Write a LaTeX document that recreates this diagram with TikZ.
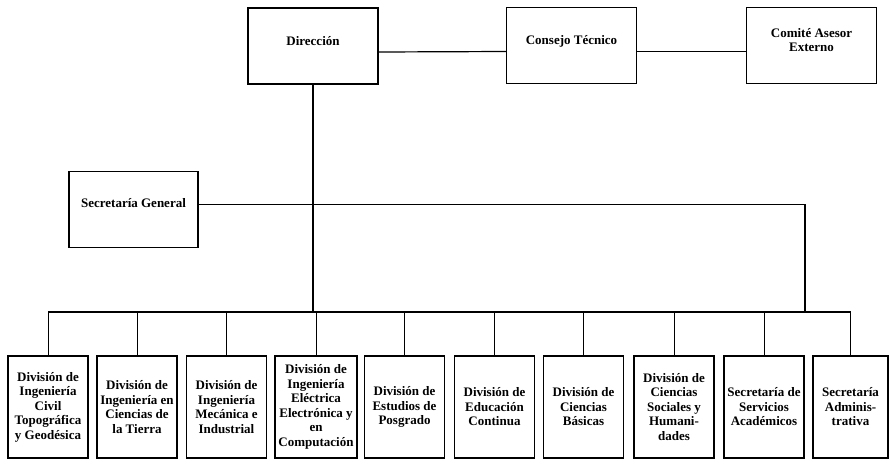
\documentclass[tikz,border=0pt]{standalone}
\usepackage{fontspec}
\setmainfont{Liberation Serif}
\tikzset{
  orgbox/.style={draw, line width=1.4pt, inner sep=0pt, align=center,
    font=\fontsize{13}{14.5}\selectfont\bfseries},
  topbox/.style={orgbox, minimum width=130pt, minimum height=76pt, text depth=11pt},
  unitbox/.style={orgbox, minimum width=80pt, minimum height=102pt},
}
\begin{document}
\begin{tikzpicture}[x=1pt,y=-1pt]
\useasboundingbox (0,0) rectangle (889,464);
\begin{scope}[line width=1.2pt]
    \path (313,46) node (direccion) [topbox] {Dirección};
    \path (571.5,45.5) node (consejo) [topbox] {Consejo Técnico};
    \path (811.5,45.5) node (comite) [topbox] {Comité Asesor\\Externo};
    \path (133.5,209.5) node (secretaria) [topbox,minimum width=129pt,text depth=14pt] {Secretaría General};

    \path (48,407) node (unit1) [unitbox] {División de\\Ingeniería\\Civil\\Topográfica\\y Geodésica};
    \path (137,407) node (unit2) [unitbox] {División de\\Ingeniería en\\Ciencias de\\la Tierra};
    \path (226.5,407) node (unit3) [unitbox] {División de\\Ingeniería\\Mecánica e\\Industrial};
    \path (316,407) node (unit4) [unitbox,minimum width=82pt] {División de\\Ingeniería\\Eléctrica\\Electrónica y\\en\\Computación};
    \path (404.5,407) node (unit5) [unitbox] {División de\\Estudios de\\Posgrado};
    \path (494.5,407) node (unit6) [unitbox] {División de\\Educación\\Continua};
    \path (583.5,407) node (unit7) [unitbox] {División de\\Ciencias\\Básicas};
    \path (674,407) node (unit8) [unitbox] {División de\\Ciencias\\Sociales y\\Humani-\\dades};
    \path (764,407) node (unit9) [unitbox] {Secretaría de\\Servicios\\Académicos};
    \path (850.5,407) node (unit10) [unitbox,minimum width=75pt] {Secretaría\\Adminis-\\trativa};

    \coordinate (bus) at (0,312);
    \coordinate (sgbus) at (805,312);

    \draw ([yshift=-6pt]direccion.east) -- ([yshift=-6pt]consejo.west);
    \draw ([yshift=-6pt]consejo.east) -- ([yshift=-6pt]comite.west);
    \draw (direccion.south) -- (direccion.south |- bus);
    \draw ([yshift=5pt]secretaria.east) -| (sgbus);
    \draw (unit1.north |- bus) -- (unit10.north |- bus);

    \draw [line width=0.8pt] (unit1.north |- bus) -- (unit1.north);
    \draw [line width=0.8pt] (unit2.north |- bus) -- (unit2.north);
    \draw [line width=0.8pt] (unit3.north |- bus) -- (unit3.north);
    \draw [line width=0.8pt] (unit4.north |- bus) -- (unit4.north);
    \draw [line width=0.8pt] (unit5.north |- bus) -- (unit5.north);
    \draw [line width=0.8pt] (unit6.north |- bus) -- (unit6.north);
    \draw [line width=0.8pt] (unit7.north |- bus) -- (unit7.north);
    \draw [line width=0.8pt] (unit8.north |- bus) -- (unit8.north);
    \draw [line width=0.8pt] (unit9.north |- bus) -- (unit9.north);
    \draw [line width=0.8pt] (unit10.north |- bus) -- (unit10.north);
  \end{scope}
\end{tikzpicture}
\end{document}
